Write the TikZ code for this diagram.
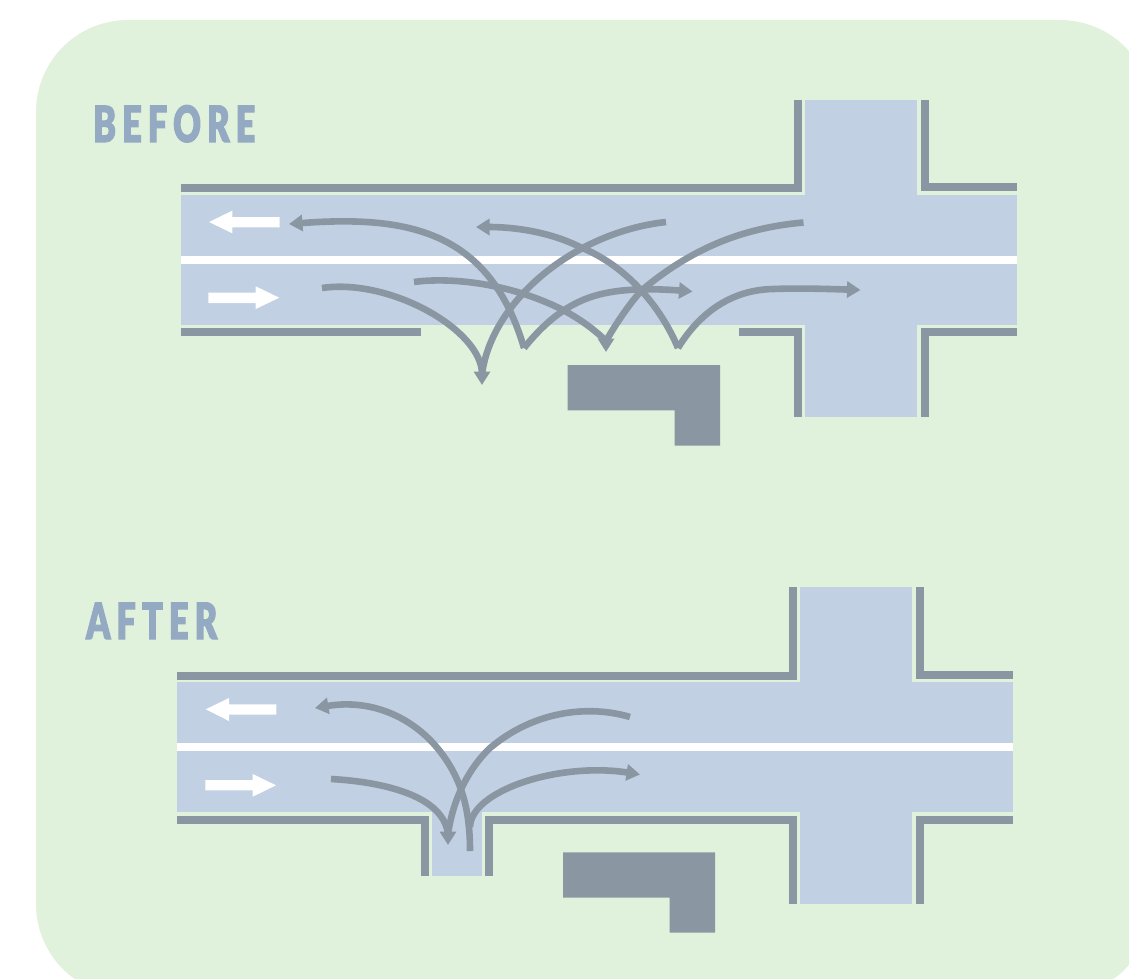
\documentclass[tikz,border=0pt]{standalone}
\usepackage{fontspec}
\usetikzlibrary{arrows.meta}
\newfontfamily\headfont[LetterSpace=12.5,FakeStretch=0.68,FakeBold=2.2]{Lato Black}
\definecolor{bggreen}{HTML}{E0F1DC}
\definecolor{roadblue}{HTML}{C1D0E3}
\definecolor{wallgrey}{HTML}{8A97A3}
\definecolor{headblue}{HTML}{94A9C2}
\tikzset{
  road/.style={fill=roadblue,draw=none},
  wall/.style={draw=wallgrey,line width=8pt,miter limit=10,line cap=butt},
  building/.style={fill=wallgrey,draw=none},
  whitearrow/.style={fill=white,draw=none},
  routeline/.style={draw=wallgrey,line width=6.6pt},
  routearrow/.style={routeline,-{Triangle[length=13.5pt,width=16pt]}},
  heading/.style={text=headblue,font=\headfont\fontsize{50}{50}\selectfont,anchor=base west,inner sep=0pt}
}
\begin{document}
\begin{tikzpicture}[x=1pt,y=-1pt]
\useasboundingbox (0,0) rectangle (1129,979);
\begin{scope}
\clip (0,0) rectangle (1129,979);
\fill[bggreen,rounded corners=92pt] (36,20) rectangle (1152,996);
\end{scope}

% ---------- BEFORE ----------
\node[heading] (before) at (93,142) {BEFORE};
\fill[road] (181,195) rectangle (1017,325);
\fill[road] (805,100) rectangle (917,417);
\fill[white] (181,256) rectangle (1017,264);
\draw[wall] (181,188) -- (798,188) -- (798,100);
\draw[wall] (925,100) -- (925,187) -- (1017,187);
\draw[wall] (181,332) -- (421,332);
\draw[wall] (739,332) -- (798,332) -- (798,417);
\draw[wall] (925,417) -- (925,332) -- (1017,332);
\fill[building] (567.5,365) -- (720,365) -- (720,445.7) -- (674.7,445.7) -- (674.7,410.3) -- (567.5,410.3) -- cycle;
\fill[whitearrow] (209,222) -- (232.3,210.7) -- (232.3,217) -- (279.7,217) -- (279.7,227.3) -- (232.3,227.3) -- (232.3,233.3) -- cycle;
\fill[whitearrow] (208.3,292.7) -- (255.7,292.7) -- (255.7,286.3) -- (279.3,297.7) -- (255.7,309) -- (255.7,303) -- (208.3,303) -- cycle;

\draw[routearrow] (524,348) .. controls (490,232) and (410,215) .. (289,224);
\draw[routeline] (666,222) .. controls (575,232) and (492,300) .. (482,374);
\draw[routeline] (322,288) .. controls (390,278) and (482,330) .. (482,374);
\draw[routearrow] (482,371) -- (482,385);
\draw[routeline] (414,282) .. controls (450,277) and (510,283) .. (563,310) .. controls (580,319) and (595,330) .. (606,341);
\draw[routeline] (803.5,222.5) .. controls (740,228) and (690,250) .. (642,290) .. controls (630,303) and (617,322) .. (606,341);
\draw[routearrow] (606,338) -- (606,352);
\draw[routearrow] (524,348) .. controls (545,322) and (570,300) .. (606,293) .. controls (630,288) and (660,289) .. (692.5,291.5);
\draw[routearrow] (678,348) .. controls (660,305) and (625,265) .. (580,247) .. controls (550,232) and (515,227) .. (476,227);
\draw[routearrow] (678,348) .. controls (695,320) and (725,290) .. (773,289) .. controls (800,288) and (830,289) .. (860.5,290);

% ---------- AFTER ----------
\node[heading] (after) at (86,639) {AFTER};
\fill[road] (177,682) rectangle (1013,812);
\fill[road] (800,587) rectangle (912,904);
\fill[road] (432,812) rectangle (482.3,876);
\fill[white] (177,743) rectangle (1013,751);
\draw[wall] (177,676) -- (793,676) -- (793,587);
\draw[wall] (920,587) -- (920,675) -- (1013,675);
\draw[wall] (177,819.5) -- (425,819.5) -- (425,876);
\draw[wall] (488.7,876) -- (488.7,819.5) -- (793,819.5) -- (793,904);
\draw[wall] (920,904) -- (920,819.5) -- (1013,819.5);
\fill[building] (563,852.3) -- (715,852.3) -- (715,932.7) -- (669.7,932.7) -- (669.7,897.7) -- (563,897.7) -- cycle;
\fill[whitearrow] (205.7,709.3) -- (229,698) -- (229,704.3) -- (276.3,704.3) -- (276.3,714.7) -- (229,714.7) -- (229,721) -- cycle;
\fill[whitearrow] (205.3,780) -- (252.7,780) -- (252.7,774) -- (276,785.3) -- (252.7,796.7) -- (252.7,790.3) -- (205.3,790.3) -- cycle;

\draw[routearrow] (470,851) .. controls (470,810) and (462,775) .. (433,743) .. controls (408,716) and (370,699) .. (315,708);
\draw[routeline] (630,717) .. controls (590,705) and (535,710) .. (490,748) .. controls (465,772) and (452,805) .. (448,834);
\draw[routeline] (331,779) .. controls (385,782) and (425,795) .. (440,815) .. controls (444,820) and (447,826) .. (448,834);
\draw[routearrow] (448,831) -- (448,845);
\draw[routearrow] (470,827) .. controls (471,790) and (560,762) .. (640,774.5);
\end{tikzpicture}
\end{document}
